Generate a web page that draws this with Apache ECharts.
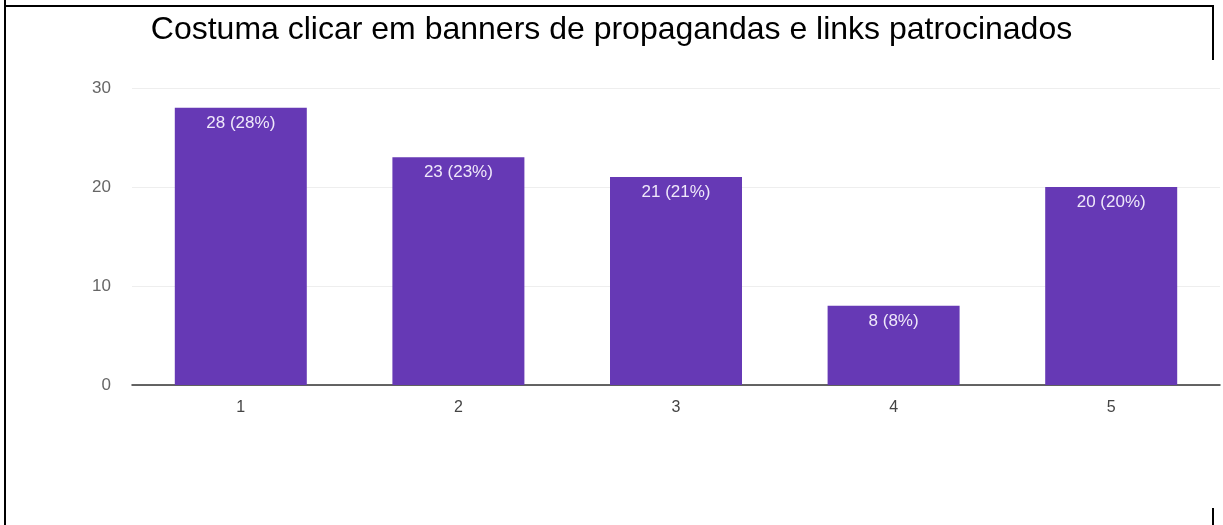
<!DOCTYPE html>
<html>
<head>
<meta charset="utf-8">
<script src="https://cdn.jsdelivr.net/npm/echarts@6/dist/echarts.min.js"></script>
<style>
  html, body { margin: 0; padding: 0; background: #fff; }
  #chart { width: 1223px; height: 525px; }
</style>
</head>
<body>
<div id="chart"></div>
<script>
// Survey answers on a 1–5 scale
const titleText = 'Costuma clicar em banners de propagandas e links patrocinados';
const categories = ['1', '2', '3', '4', '5'];
const counts = [28, 23, 21, 8, 20];
const percents = [28, 23, 21, 8, 20];
const yTicks = [0, 10, 20, 30];

const chart = echarts.init(document.getElementById('chart'));

const frame = { stroke: '#000', lineWidth: 2 };
const labelFont = 'Liberation Sans, Arial, sans-serif';

chart.setOption({
  backgroundColor: '#fff',
  animation: false,
  title: {
    text: titleText,
    left: 'center',
    top: 9,
    textStyle: {
      fontFamily: labelFont,
      fontSize: 32,
      fontWeight: 'normal',
      color: '#000'
    }
  },
  grid: { left: 132, right: 3, top: 88, bottom: 140, containLabel: false },
  xAxis: {
    type: 'category',
    data: categories,
    axisLine: { lineStyle: { color: '#333', width: 1.5 } },
    axisTick: { show: false },
    axisLabel: {
      color: '#444',
      fontSize: 16,
      fontFamily: labelFont,
      margin: 15
    }
  },
  yAxis: {
    type: 'value',
    min: yTicks[0],
    max: yTicks[yTicks.length - 1],
    interval: 10,
    axisLine: { show: false },
    axisTick: { show: false },
    axisLabel: {
      color: '#666',
      fontSize: 17,
      fontFamily: labelFont,
      margin: 21
    },
    splitLine: { lineStyle: { color: '#eeeeee', width: 1 } }
  },
  series: [{
    type: 'bar',
    data: counts,
    barWidth: 132,
    itemStyle: { color: '#6639b5' },
    label: {
      show: true,
      position: 'insideTop',
      distance: 7,
      color: '#efe8fa',
      fontSize: 17,
      fontFamily: labelFont,
      formatter: p => `${counts[p.dataIndex]} (${percents[p.dataIndex]}%)`
    }
  }],
  graphic: [
    { type: 'line', shape: { x1: 5, y1: 0, x2: 5, y2: 525 }, style: frame },
    { type: 'line', shape: { x1: 4, y1: 6, x2: 1214, y2: 6 }, style: frame },
    { type: 'line', shape: { x1: 1213, y1: 5, x2: 1213, y2: 60 }, style: frame },
    { type: 'line', shape: { x1: 1213, y1: 508, x2: 1213, y2: 525 }, style: frame }
  ]
});
</script>
</body>
</html>
